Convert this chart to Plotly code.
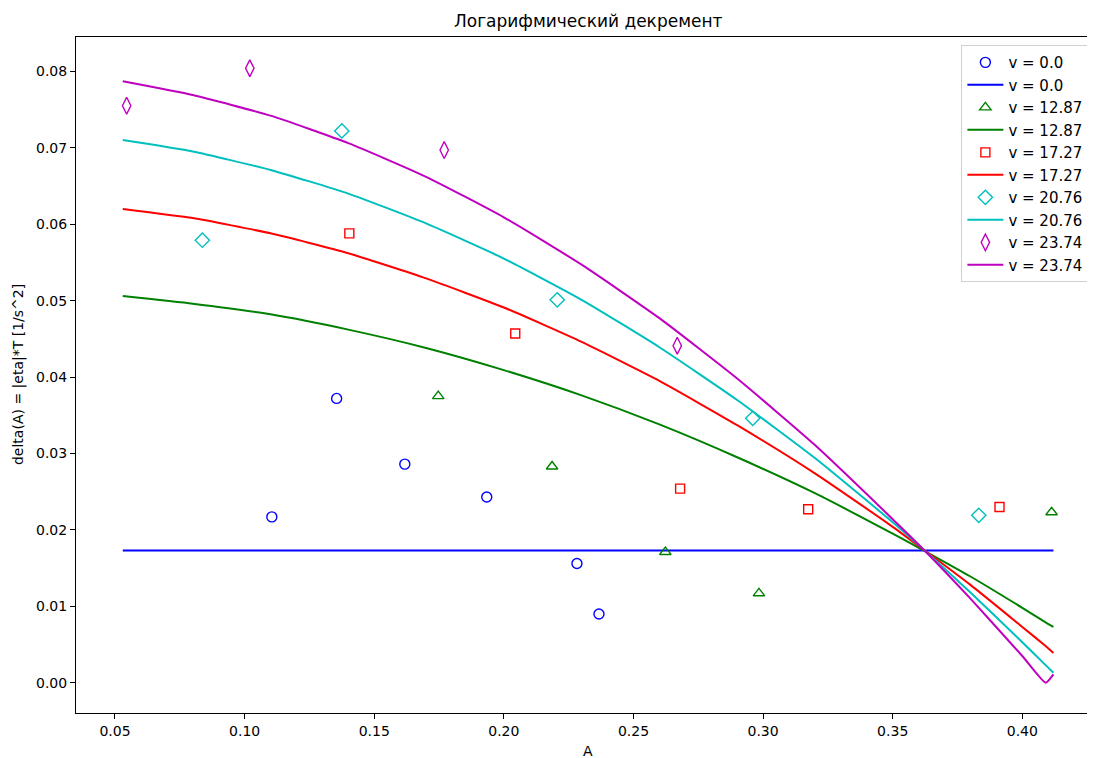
import plotly.graph_objects as go

# ---- data ----
labels = ["v = 0.0", "v = 12.87", "v = 17.27", "v = 20.76", "v = 23.74"]
colors = ["#0000ff", "#008000", "#ff0000", "#00bfbf", "#bf00bf"]
symbols = ["circle-open", "triangle-up-open", "square-open", "diamond-open", "diamond-tall-open"]
msizes = [10, 10, 9, 11, 12]

# measured points
pts_A = [
    [0.1105, 0.1355, 0.1618, 0.1934, 0.2282, 0.2367],
    [0.1747, 0.2186, 0.2623, 0.2984, 0.4113],
    [0.1404, 0.2044, 0.2680, 0.3174, 0.3912],
    [0.0837, 0.1375, 0.2206, 0.2960, 0.3832],
    [0.0545, 0.1020, 0.1770, 0.2669],
]
pts_d = [
    [0.0217, 0.0372, 0.0286, 0.0243, 0.0156, 0.0090],
    [0.0375, 0.0283, 0.0171, 0.0117, 0.0223],
    [0.0588, 0.0457, 0.0254, 0.0227, 0.0230],
    [0.0579, 0.0722, 0.0501, 0.0346, 0.0219],
    [0.0755, 0.0804, 0.0697, 0.0441],
]

# fitted curves
curve_A = [0.053, 0.08, 0.11, 0.14, 0.17, 0.20, 0.23, 0.26, 0.29, 0.32,
           0.35, 0.362, 0.38, 0.40, 0.409, 0.412]
curve_d = [
    [0.0173] * 16,
    [0.0506, 0.0496, 0.0482, 0.0462, 0.0438, 0.0409, 0.0376, 0.0338, 0.0295,
     0.0248, 0.0195, 0.0173, 0.0139, 0.0098, 0.0079, 0.0073],
    [0.0620, 0.0608, 0.0588, 0.0562, 0.0529, 0.0491, 0.0446, 0.0395, 0.0337,
     0.0274, 0.0204, 0.0174, 0.0128, 0.0073, 0.0048, 0.0039],
    [0.0710, 0.0695, 0.0671, 0.0640, 0.0601, 0.0555, 0.0501, 0.0439, 0.0370,
     0.0294, 0.0210, 0.0174, 0.0118, 0.0053, 0.0023, 0.0013],
    [0.0787, 0.0769, 0.0742, 0.0706, 0.0662, 0.0609, 0.0547, 0.0477, 0.0398,
     0.0311, 0.0214, 0.0174, 0.0110, 0.0035, 0.0000, 0.0011],
]

x_ticks = [0.05, 0.10, 0.15, 0.20, 0.25, 0.30, 0.35, 0.40]
y_ticks = [0.00, 0.01, 0.02, 0.03, 0.04, 0.05, 0.06, 0.07, 0.08]

title_text = "Логарифмический декремент"
x_label = "A"
y_label = "delta(A) = |eta|*T [1/s^2]"

FONT = "DejaVu Sans, sans-serif"

fig = go.Figure()
for i in range(len(labels)):
    fig.add_trace(go.Scatter(
        x=pts_A[i], y=pts_d[i], mode="markers", name=labels[i],
        marker=dict(symbol=symbols[i], size=msizes[i], color=colors[i],
                    line=dict(width=1.4, color=colors[i])),
    ))
    fig.add_trace(go.Scatter(
        x=curve_A, y=curve_d[i], mode="lines", name=labels[i],
        line=dict(color=colors[i], width=2, shape="spline", smoothing=0.5),
    ))

# the page body has an 8px default margin: size the figure to compensate
fig.update_layout(
    width=1087, height=750,
    margin=dict(l=68, r=0, t=29, b=45),
    paper_bgcolor="white", plot_bgcolor="white",
    font=dict(family=FONT, size=14, color="#000"),
    showlegend=True,
    legend=dict(
        x=0.9935, y=0.988, xanchor="right", yanchor="top",
        bgcolor="rgba(255,255,255,0.8)", bordercolor="#d0d0d0", borderwidth=1,
        font=dict(family=FONT, size=15, color="#000"),
        tracegroupgap=0, itemwidth=36,
    ),
    xaxis=dict(
        range=[0.03496, 0.42804], tickvals=x_ticks, tickformat=".2f",
        showgrid=False, zeroline=False, showline=True, linecolor="#000",
        linewidth=1, mirror=True, ticks="outside", ticklen=5, tickcolor="#000",
        tickfont=dict(family=FONT, size=14, color="#000"),
    ),
    yaxis=dict(
        range=[-0.00396, 0.08449], tickvals=y_ticks, tickformat=".2f",
        showgrid=False, zeroline=False, showline=True, linecolor="#000",
        linewidth=1, mirror=False, ticks="outside", ticklen=5, tickcolor="#000",
        tickfont=dict(family=FONT, size=14, color="#000"),
    ),
    annotations=[
        dict(text=title_text, xref="paper", yref="paper", x=0.5025, y=1.0237,
             xanchor="center", yanchor="middle", showarrow=False,
             font=dict(family=FONT, size=17, color="#000")),
        dict(text=x_label, xref="paper", yref="paper", x=0.5025, y=-0.0562,
             xanchor="center", yanchor="middle", showarrow=False,
             font=dict(family=FONT, size=14, color="#000")),
        dict(text=y_label, xref="paper", yref="paper", x=-0.0569, y=0.5,
             xanchor="center", yanchor="middle", textangle=-90, showarrow=False,
             font=dict(family=FONT, size=14, color="#000")),
    ],
)

fig.write_html("out.html")
